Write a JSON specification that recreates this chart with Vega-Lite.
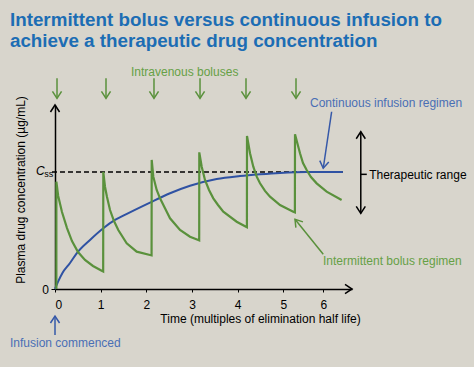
{
  "$schema": "https://vega.github.io/schema/vega-lite/v6.json",
  "width": 297,
  "height": 184,
  "autosize": {"type": "none"},
  "padding": {"left": 55, "top": 105, "right": 122, "bottom": 78},
  "background": "#d8d5cc",
  "config": {"view": {"stroke": null}, "font": "Liberation Sans"},
  "datasets": {
    "heading": [
      {"t": -0.986, "v": 2.25, "text": "Intermittent bolus versus continuous infusion to"},
      {"t": -0.986, "v": 2.071, "text": "achieve a therapeutic drug concentration"}
    ],
    "green": [
      {"i": 0, "t": 0.03, "v": 0},
      {"i": 1, "t": 0.03, "v": 0.917},
      {"i": 2, "t": 0.07, "v": 0.795},
      {"i": 3, "t": 0.153, "v": 0.658},
      {"i": 4, "t": 0.263, "v": 0.521},
      {"i": 5, "t": 0.372, "v": 0.41},
      {"i": 6, "t": 0.504, "v": 0.316},
      {"i": 7, "t": 0.657, "v": 0.248},
      {"i": 8, "t": 0.832, "v": 0.197},
      {"i": 9, "t": 1.023, "v": 0.156},
      {"i": 10, "t": 1.055, "v": 0.15},
      {"i": 11, "t": 1.058, "v": 1.0},
      {"i": 12, "t": 1.095, "v": 0.874},
      {"i": 13, "t": 1.139, "v": 0.786},
      {"i": 14, "t": 1.205, "v": 0.675},
      {"i": 15, "t": 1.292, "v": 0.581},
      {"i": 16, "t": 1.386, "v": 0.504},
      {"i": 17, "t": 1.57, "v": 0.391},
      {"i": 18, "t": 1.789, "v": 0.319},
      {"i": 19, "t": 2.081, "v": 0.291},
      {"i": 20, "t": 2.115, "v": 0.288},
      {"i": 21, "t": 2.118, "v": 1.103},
      {"i": 22, "t": 2.153, "v": 0.96},
      {"i": 23, "t": 2.227, "v": 0.846},
      {"i": 24, "t": 2.3, "v": 0.775},
      {"i": 25, "t": 2.409, "v": 0.69},
      {"i": 26, "t": 2.519, "v": 0.604},
      {"i": 27, "t": 2.738, "v": 0.504},
      {"i": 28, "t": 2.957, "v": 0.447},
      {"i": 29, "t": 3.138, "v": 0.419},
      {"i": 30, "t": 3.158, "v": 0.416},
      {"i": 31, "t": 3.16, "v": 1.168},
      {"i": 32, "t": 3.213, "v": 1.045},
      {"i": 33, "t": 3.285, "v": 0.932},
      {"i": 34, "t": 3.373, "v": 0.846},
      {"i": 35, "t": 3.467, "v": 0.775},
      {"i": 36, "t": 3.57, "v": 0.718},
      {"i": 37, "t": 3.686, "v": 0.661},
      {"i": 38, "t": 3.979, "v": 0.575},
      {"i": 39, "t": 4.183, "v": 0.532},
      {"i": 40, "t": 4.203, "v": 0.528},
      {"i": 41, "t": 4.205, "v": 1.308},
      {"i": 42, "t": 4.271, "v": 1.16},
      {"i": 43, "t": 4.343, "v": 1.045},
      {"i": 44, "t": 4.418, "v": 0.96},
      {"i": 45, "t": 4.49, "v": 0.904},
      {"i": 46, "t": 4.599, "v": 0.838},
      {"i": 47, "t": 4.709, "v": 0.789},
      {"i": 48, "t": 4.928, "v": 0.718},
      {"i": 49, "t": 5.25, "v": 0.661},
      {"i": 50, "t": 5.29, "v": 0.655},
      {"i": 51, "t": 5.293, "v": 1.322},
      {"i": 52, "t": 5.418, "v": 1.16},
      {"i": 53, "t": 5.493, "v": 1.077},
      {"i": 54, "t": 5.585, "v": 1.017},
      {"i": 55, "t": 5.693, "v": 0.957},
      {"i": 56, "t": 5.835, "v": 0.903},
      {"i": 57, "t": 6.085, "v": 0.832},
      {"i": 58, "t": 6.46, "v": 0.761}
    ],
    "blue": [
      {"t": 0, "v": 0},
      {"t": 0.07, "v": 0.065},
      {"t": 0.16, "v": 0.135},
      {"t": 0.329, "v": 0.222},
      {"t": 0.475, "v": 0.305},
      {"t": 0.767, "v": 0.419},
      {"t": 1.058, "v": 0.519},
      {"t": 1.314, "v": 0.59},
      {"t": 1.496, "v": 0.627},
      {"t": 2.081, "v": 0.739},
      {"t": 2.519, "v": 0.818},
      {"t": 2.957, "v": 0.882},
      {"t": 3.541, "v": 0.94},
      {"t": 4.052, "v": 0.965},
      {"t": 4.49, "v": 0.98},
      {"t": 4.928, "v": 0.992},
      {"t": 5.585, "v": 1.0},
      {"t": 6.49, "v": 1.0}
    ],
    "css": [{"t": -0.066, "t2": 6.49, "v": 1}],
    "shafts": [
      {"t": 0.044, "v": 1.801, "t2": 0.044, "v2": 1.63, "kind": "bolus"},
      {"t": 1.117, "v": 1.801, "t2": 1.117, "v2": 1.63, "kind": "bolus"},
      {"t": 2.168, "v": 1.801, "t2": 2.168, "v2": 1.63, "kind": "bolus"},
      {"t": 3.176, "v": 1.801, "t2": 3.176, "v2": 1.63, "kind": "bolus"},
      {"t": 4.183, "v": 1.801, "t2": 4.183, "v2": 1.63, "kind": "bolus"},
      {"t": 5.318, "v": 1.801, "t2": 5.318, "v2": 1.63, "kind": "bolus"},
      {"t": 6.21, "v": 1.515, "t2": 6.0, "v2": 1.032, "kind": "infusion"},
      {"t": 6.0, "v": 0.297, "t2": 5.293, "v2": 0.596, "kind": "bolus"},
      {"t": 0, "v": -0.393, "t2": 0, "v2": -0.231, "kind": "infusion"},
      {"t": 6.94, "v": 1.344, "t2": 6.94, "v2": 0.647, "kind": "neutral"},
      {"t": 6.94, "v": 0.98, "t2": 7.09, "v2": 0.98, "kind": "neutral"}
    ],
    "heads": [
      {"t": 0.044, "v": 1.63, "dir": "down", "kind": "bolus"},
      {"t": 1.117, "v": 1.63, "dir": "down", "kind": "bolus"},
      {"t": 2.168, "v": 1.63, "dir": "down", "kind": "bolus"},
      {"t": 3.176, "v": 1.63, "dir": "down", "kind": "bolus"},
      {"t": 4.183, "v": 1.63, "dir": "down", "kind": "bolus"},
      {"t": 5.318, "v": 1.63, "dir": "down", "kind": "bolus"},
      {"t": 0, "v": 1.5726, "dir": "up", "kind": "neutral"},
      {"t": 6.72, "v": 0, "dir": "right", "kind": "neutral"},
      {"t": 6.0, "v": 1.032, "dir": "down-left", "kind": "infusion"},
      {"t": 5.293, "v": 0.596, "dir": "up-left", "kind": "bolus"},
      {"t": 0, "v": -0.231, "dir": "up", "kind": "infusion"},
      {"t": 6.94, "v": 1.344, "dir": "up", "kind": "neutral"},
      {"t": 6.94, "v": 0.647, "dir": "down", "kind": "neutral"}
    ],
    "labels": [
      {"t": 1.664, "v": 1.821, "text": "Intravenous boluses", "kind": "bolus label"},
      {"t": 5.668, "v": 1.556, "text": "Continuous infusion regimen", "kind": "infusion label"},
      {"t": 5.993, "v": 0.205, "text": "Intermittent bolus regimen", "kind": "bolus label"},
      {"t": -0.986, "v": -0.498, "text": "Infusion commenced", "kind": "infusion label"},
      {"t": 7.15, "v": 0.938, "text": "Therapeutic range", "kind": "neutral"}
    ],
    "cssLabel": [
      {"t": -0.416, "v": 0.974, "part": "C"},
      {"t": -0.235, "v": 0.955, "part": "ss"}
    ]
  },
  "encoding": {
    "x": {
      "field": "t",
      "type": "quantitative",
      "scale": {"domain": [0, 5, 6.72], "range": [0, 228.3, 297], "nice": false, "zero": false},
      "axis": {
        "values": [0, 1, 2, 3, 4, 5, 6],
        "format": "d",
        "grid": false,
        "title": "Time (multiples of elimination half life)",
        "titleX": 205,
        "titleY": 33,
        "titleAlign": "center",
        "titleBaseline": "alphabetic",
        "titleFontSize": 12,
        "titleFontWeight": "normal",
        "titleColor": "#000000",
        "titleFont": "Liberation Sans",
        "labelFont": "Liberation Sans",
        "labelFontSize": 12,
        "labelColor": "#000000",
        "labelBaseline": "alphabetic",
        "labelPadding": 16.3,
        "tickSize": 3,
        "tickColor": "#000000",
        "domainColor": "#000000",
        "domainWidth": 1.5
      }
    },
    "y": {
      "field": "v",
      "type": "quantitative",
      "scale": {"domain": [0, 1.5726], "nice": false, "zero": false},
      "axis": {
        "values": [0],
        "grid": false,
        "title": "Plasma drug concentration (µg/mL)",
        "titleX": -30.5,
        "titleY": 84.5,
        "titleAngle": -90,
        "titleAlign": "center",
        "titleBaseline": "alphabetic",
        "titleFontSize": 12,
        "titleFontWeight": "normal",
        "titleColor": "#000000",
        "titleFont": "Liberation Sans",
        "labelFont": "Liberation Sans",
        "labelFontSize": 12,
        "labelColor": "#000000",
        "labelPadding": 2.5,
        "tickSize": 4,
        "tickColor": "#000000",
        "domainColor": "#000000",
        "domainWidth": 1.5
      }
    }
  },
  "layer": [
    {
      "data": {"name": "heading"},
      "mark": {"type": "text", "align": "left", "baseline": "alphabetic", "fontSize": 18.8, "fontWeight": "bold", "font": "Liberation Sans", "color": "#1c6db4"},
      "encoding": {"text": {"field": "text"}}
    },
    {
      "data": {"name": "css"},
      "mark": {"type": "rule", "color": "#000000", "strokeWidth": 1.4, "strokeDash": [5, 3]},
      "encoding": {"x2": {"field": "t2"}}
    },
    {
      "data": {"name": "blue"},
      "mark": {"type": "line", "color": "#2f52a3", "strokeWidth": 2, "interpolate": "monotone"},
      "encoding": {}
    },
    {
      "data": {"name": "green"},
      "mark": {"type": "line", "color": "#5a913c", "strokeWidth": 2.2},
      "encoding": {"order": {"field": "i", "type": "quantitative"}}
    },
    {
      "data": {"name": "shafts"},
      "mark": {"type": "rule", "strokeWidth": 1.5},
      "encoding": {
        "x2": {"field": "t2"},
        "y2": {"field": "v2"},
        "color": {"field": "kind", "type": "nominal", "scale": {"domain": ["bolus", "infusion", "neutral", "bolus label", "infusion label"], "range": ["#5a913c", "#3558a8", "#000000", "#66a046", "#4a6fb5"]}, "legend": null}
      }
    },
    {
      "data": {"name": "heads"},
      "transform": [{"filter": "datum.dir === 'down'"}],
      "mark": {"type": "point", "shape": "M-0.65,-1L0,0L0.65,-1", "filled": false, "size": 196, "strokeWidth": 1.5, "opacity": 1, "angle": 0},
      "encoding": {"color": {"field": "kind", "type": "nominal", "scale": {"domain": ["bolus", "infusion", "neutral", "bolus label", "infusion label"], "range": ["#5a913c", "#3558a8", "#000000", "#66a046", "#4a6fb5"]}, "legend": null}}
    },
    {
      "data": {"name": "heads"},
      "transform": [{"filter": "datum.dir === 'up'"}],
      "mark": {"type": "point", "shape": "M-0.65,-1L0,0L0.65,-1", "filled": false, "size": 196, "strokeWidth": 1.5, "opacity": 1, "angle": 180},
      "encoding": {"color": {"field": "kind", "type": "nominal", "scale": {"domain": ["bolus", "infusion", "neutral", "bolus label", "infusion label"], "range": ["#5a913c", "#3558a8", "#000000", "#66a046", "#4a6fb5"]}, "legend": null}}
    },
    {
      "data": {"name": "heads"},
      "transform": [{"filter": "datum.dir === 'right'"}],
      "mark": {"type": "point", "shape": "M-0.65,-1L0,0L0.65,-1", "filled": false, "size": 196, "strokeWidth": 1.5, "opacity": 1, "angle": -90},
      "encoding": {"color": {"field": "kind", "type": "nominal", "scale": {"domain": ["bolus", "infusion", "neutral", "bolus label", "infusion label"], "range": ["#5a913c", "#3558a8", "#000000", "#66a046", "#4a6fb5"]}, "legend": null}}
    },
    {
      "data": {"name": "heads"},
      "transform": [{"filter": "datum.dir === 'down-left'"}],
      "mark": {"type": "point", "shape": "M-0.65,-1L0,0L0.65,-1", "filled": false, "size": 196, "strokeWidth": 1.5, "opacity": 1, "angle": 8.4},
      "encoding": {"color": {"field": "kind", "type": "nominal", "scale": {"domain": ["bolus", "infusion", "neutral", "bolus label", "infusion label"], "range": ["#5a913c", "#3558a8", "#000000", "#66a046", "#4a6fb5"]}, "legend": null}}
    },
    {
      "data": {"name": "heads"},
      "transform": [{"filter": "datum.dir === 'up-left'"}],
      "mark": {"type": "point", "shape": "M-0.65,-1L0,0L0.65,-1", "filled": false, "size": 196, "strokeWidth": 1.5, "opacity": 1, "angle": 141},
      "encoding": {"color": {"field": "kind", "type": "nominal", "scale": {"domain": ["bolus", "infusion", "neutral", "bolus label", "infusion label"], "range": ["#5a913c", "#3558a8", "#000000", "#66a046", "#4a6fb5"]}, "legend": null}}
    },
    {
      "data": {"name": "labels"},
      "mark": {"type": "text", "align": "left", "baseline": "alphabetic", "fontSize": 12, "font": "Liberation Sans"},
      "encoding": {
        "text": {"field": "text"},
        "color": {"field": "kind", "type": "nominal", "scale": {"domain": ["bolus", "infusion", "neutral", "bolus label", "infusion label"], "range": ["#5a913c", "#3558a8", "#000000", "#66a046", "#4a6fb5"]}, "legend": null}
      }
    },
    {
      "data": {"name": "cssLabel"},
      "transform": [{"filter": "datum.part === 'C'"}],
      "mark": {"type": "text", "align": "left", "baseline": "alphabetic", "fontSize": 12, "fontStyle": "italic", "font": "Liberation Sans", "color": "#000000"},
      "encoding": {"text": {"field": "part"}}
    },
    {
      "data": {"name": "cssLabel"},
      "transform": [{"filter": "datum.part === 'ss'"}],
      "mark": {"type": "text", "align": "left", "baseline": "alphabetic", "fontSize": 9, "font": "Liberation Sans", "color": "#000000"},
      "encoding": {"text": {"field": "part"}}
    }
  ]
}
